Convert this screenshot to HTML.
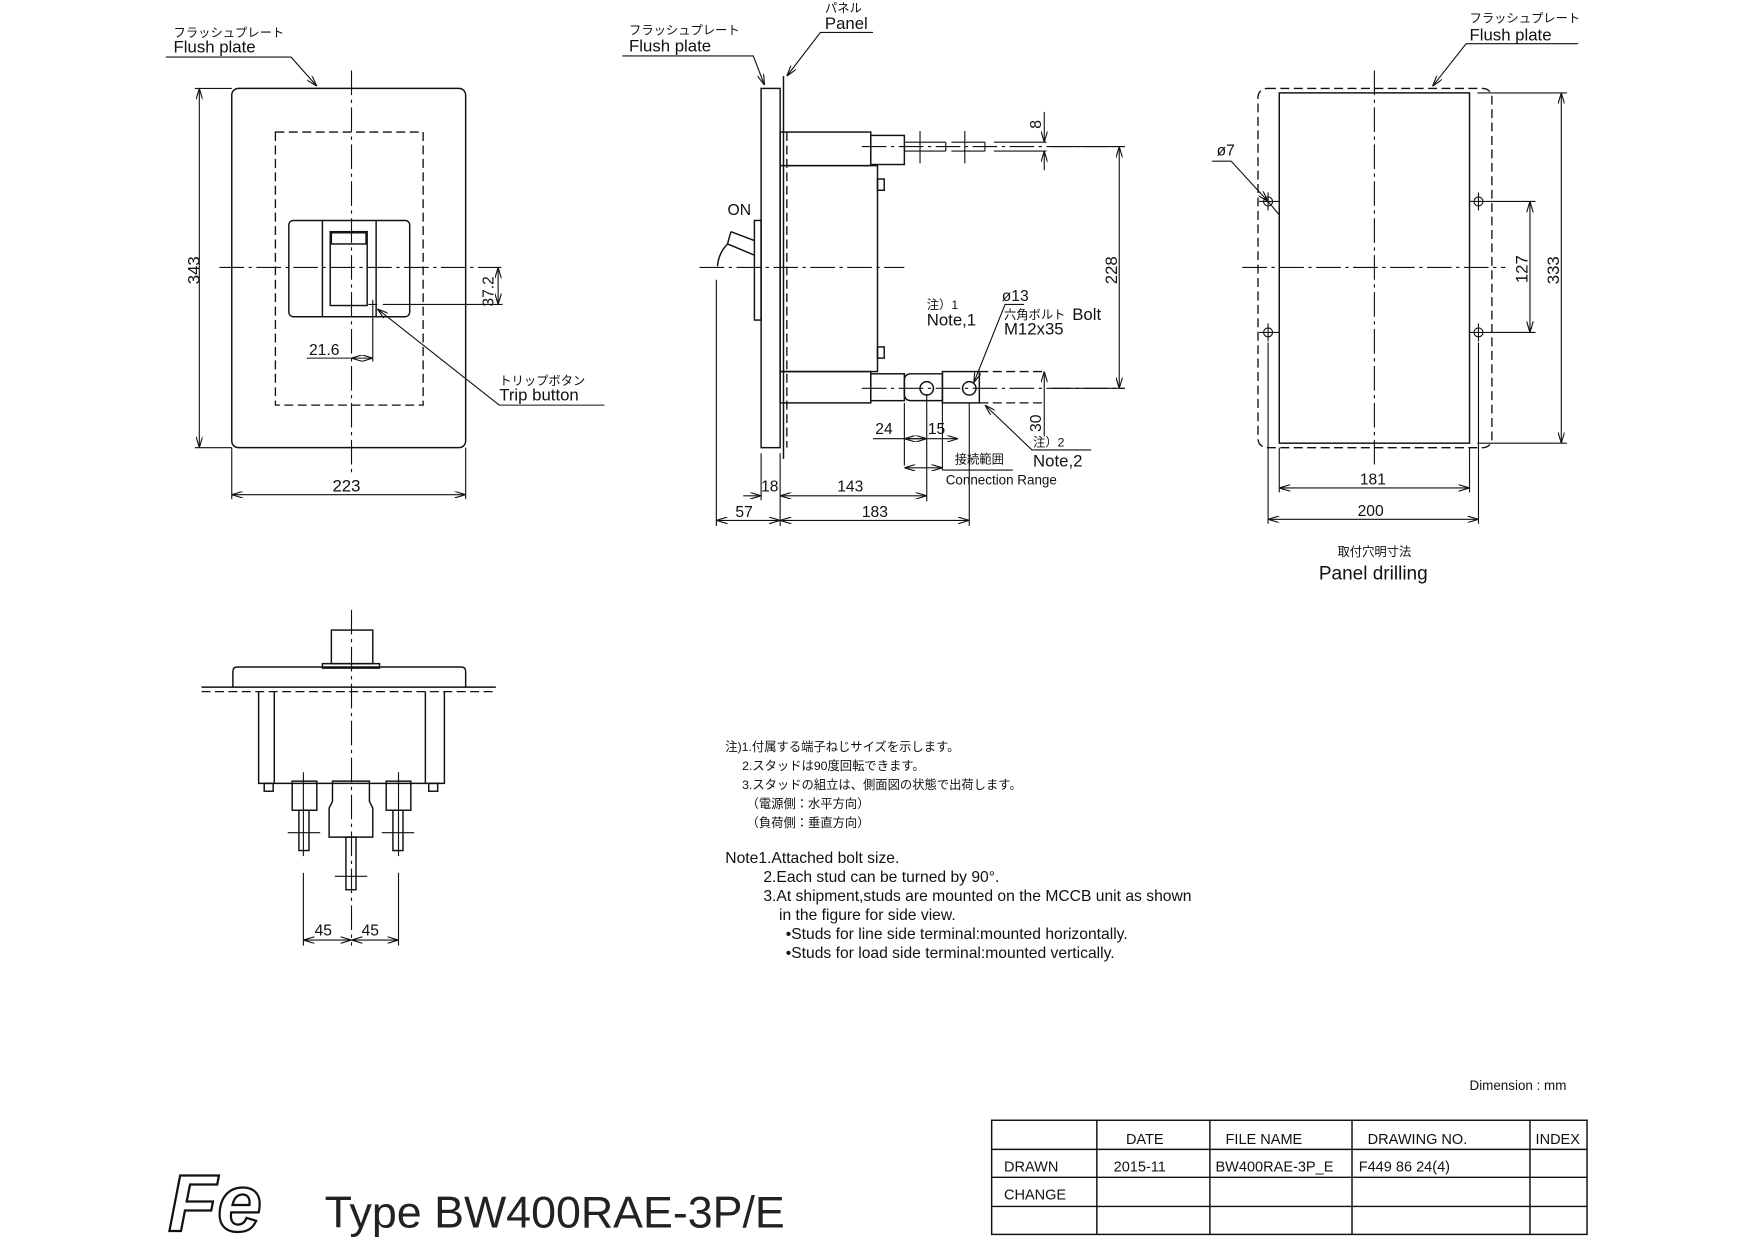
<!DOCTYPE html>
<html><head><meta charset="utf-8"><style>
html,body{margin:0;padding:0;background:#fff;}
svg{display:block;}
text{font-family:"Liberation Sans","Noto Sans CJK JP",sans-serif;fill:#111;}
.l{stroke:#111;stroke-width:1.3;fill:none;}
.t{stroke:#111;stroke-width:1;fill:none;}
.c{stroke:#111;stroke-width:1;fill:none;stroke-dasharray:22 4 3 4;}
.d{stroke:#111;stroke-width:1.2;fill:none;stroke-dasharray:8 4;}
.jp{font-size:11px;}
.en{font-size:15px;}
</style></head><body>
<svg width="1755" height="1240" viewBox="0 0 1568 1108" xmlns="http://www.w3.org/2000/svg">
<defs>
<marker id="a" viewBox="0 0 10 6" refX="10" refY="3" markerWidth="10" markerHeight="6" orient="auto-start-reverse" markerUnits="userSpaceOnUse"><path d="M0,0 L10,3 L0,6" fill="none" stroke="#111" stroke-width="1"/></marker>
</defs>

<!-- FRONT VIEW -->
<rect class="l" x="207" y="79" width="209" height="321" rx="6"/>
<rect class="d" x="246" y="118" width="132" height="244"/>
<line class="c" x1="314" y1="63" x2="314" y2="425"/>
<line class="c" x1="196" y1="239" x2="448" y2="239"/>
<rect class="l" x="258" y="197" width="108" height="86" rx="4"/>
<line class="l" x1="288" y1="197" x2="288" y2="283"/>
<line class="l" x1="336" y1="197" x2="336" y2="283"/>
<rect class="l" x="295" y="207" width="33" height="66"/>
<rect class="l" x="296" y="208" width="31" height="10"/>
<path class="t" d="M329,272h8M333,268v8"/>
<line class="t" x1="342" y1="272" x2="449" y2="272"/>
<line class="t" x1="445" y1="239" x2="445" y2="272" marker-start="url(#a)" marker-end="url(#a)"/>
<text x="0" y="0" font-size="14" transform="translate(441,274) rotate(-90)">37.2</text>
<line class="t" x1="333" y1="276" x2="333" y2="323"/>
<line class="t" x1="274" y1="320" x2="314" y2="320"/>
<line class="t" x1="314" y1="320" x2="333" y2="320" marker-start="url(#a)" marker-end="url(#a)"/>
<text x="276" y="317" font-size="14">21.6</text>
<path class="t" d="M540,362H446L337,276" marker-end="url(#a)"/>
<text class="jp" x="446" y="344">トリップボタン</text>
<text class="en" x="446" y="358">Trip button</text>
<line class="t" x1="178" y1="79" x2="178" y2="400" marker-start="url(#a)" marker-end="url(#a)"/>
<line class="t" x1="174" y1="79" x2="207" y2="79"/><line class="t" x1="174" y1="400" x2="207" y2="400"/>
<text font-size="15" transform="translate(178,254) rotate(-90)">343</text>
<line class="t" x1="207" y1="442" x2="416" y2="442" marker-start="url(#a)" marker-end="url(#a)"/>
<line class="t" x1="207" y1="400" x2="207" y2="446"/><line class="t" x1="416" y1="400" x2="416" y2="446"/>
<text x="297" y="439" font-size="15">223</text>
<text class="jp" x="155" y="33">フラッシュプレート</text>
<text class="en" x="155" y="47">Flush plate</text>
<path class="t" d="M148,51H260L283,77" marker-end="url(#a)"/>

<!-- SIDE VIEW -->
<rect class="l" x="680" y="79" width="17" height="321"/>
<line class="l" x1="700" y1="68" x2="700" y2="410"/>
<line class="d" x1="703" y1="118" x2="703" y2="400"/>
<rect class="l" x="697" y="118" width="81" height="30"/>
<rect class="l" x="697" y="148" width="87" height="184"/>
<rect class="l" x="697" y="332" width="81" height="28"/>
<rect class="l" x="778" y="121" width="30" height="26"/>
<rect class="l" x="778" y="334" width="30" height="24"/>
<rect class="l" x="784" y="160" width="6" height="10"/>
<rect class="l" x="784" y="310" width="6" height="10"/>
<line class="c" x1="770" y1="131" x2="1005" y2="131"/>
<path class="t" d="M808,127H845M808,135H845M850,127H880M850,135H880M888,127H935M888,135H935M845,127V135M880,127V135"/>
<path class="t" d="M822,117V146M862,117V146"/>
<line class="t" x1="933" y1="100" x2="933" y2="127" marker-end="url(#a)"/>
<line class="t" x1="933" y1="152" x2="933" y2="135" marker-end="url(#a)"/>
<text font-size="14" transform="translate(930,115) rotate(-90)">8</text>
<line class="t" x1="938" y1="131" x2="1005" y2="131"/>
<line class="t" x1="940" y1="347" x2="1005" y2="347"/>
<line class="t" x1="1000" y1="131" x2="1000" y2="347" marker-start="url(#a)" marker-end="url(#a)"/>
<text font-size="15" transform="translate(998,254) rotate(-90)">228</text>
<path class="l" d="M842,334H814Q808,334 808,340V352Q808,358 814,358H842Z"/>
<circle class="l" cx="828" cy="347" r="6"/>
<rect class="l" x="842" y="332" width="33" height="28"/>
<circle class="l" cx="866" cy="347" r="6"/>
<line class="c" x1="770" y1="347" x2="1005" y2="347"/>
<path class="d" d="M875,332H935M875,360H935"/>
<line class="t" x1="933" y1="332" x2="933" y2="390" marker-start="url(#a)"/>
<text font-size="14" transform="translate(930,386) rotate(-90)">30</text>
<text x="895" y="269" font-size="14">ø13</text>
<text class="jp" x="897" y="285">六角ボルト</text><text class="en" x="958" y="286">Bolt</text>
<text class="en" x="897" y="299">M12x35</text>
<path class="t" d="M915,272H898L870,342" marker-end="url(#a)"/>
<text class="jp" x="828" y="276">注）1</text>
<text class="en" x="828" y="291">Note,1</text>
<path class="t" d="M975,402H922L880,362" marker-end="url(#a)"/>
<text class="jp" x="923" y="399">注）2</text>
<text class="en" x="923" y="417">Note,2</text>
<path class="t" d="M808,360V416M828,352V448M842,360V420M866,360V470"/>
<line class="t" x1="780" y1="392" x2="828" y2="392"/>
<line class="t" x1="808" y1="392" x2="828" y2="392" marker-start="url(#a)" marker-end="url(#a)"/>
<line class="t" x1="828" y1="392" x2="856" y2="392" marker-end="url(#a)"/>
<text x="782" y="388" font-size="14">24</text>
<text x="829" y="388" font-size="14">15</text>
<line class="t" x1="808" y1="418" x2="842" y2="418" marker-start="url(#a)" marker-end="url(#a)"/>
<line class="t" x1="842" y1="420" x2="905" y2="420"/>
<text class="jp" x="853" y="414">接続範囲</text>
<text x="845" y="433" font-size="12">Connection Range</text>
<line class="t" x1="697" y1="443" x2="828" y2="443" marker-start="url(#a)" marker-end="url(#a)"/>
<text x="748" y="439" font-size="14">143</text>
<line class="t" x1="664" y1="443" x2="680" y2="443" marker-end="url(#a)"/>
<text x="680" y="439" font-size="14">18</text>
<path class="t" d="M680,405V447M697,405V470M640,250V470"/>
<line class="t" x1="640" y1="465" x2="697" y2="465" marker-start="url(#a)" marker-end="url(#a)"/>
<line class="t" x1="697" y1="465" x2="866" y2="465" marker-start="url(#a)" marker-end="url(#a)"/>
<text x="657" y="462" font-size="14">57</text>
<text x="770" y="462" font-size="14">183</text>
<rect class="l" x="674" y="197" width="6" height="89"/>
<path class="l" d="M653,207L674,215M650,218L674,228M653,207L650,218Q642,226 641,238"/>
<text x="650" y="192" font-size="14">ON</text>
<line class="c" x1="625" y1="239" x2="808" y2="239"/>
<text class="jp" x="562" y="31">フラッシュプレート</text>
<text class="en" x="562" y="46">Flush plate</text>
<path class="t" d="M556,50H673L683,76" marker-end="url(#a)"/>
<text class="jp" x="737" y="11">パネル</text>
<text class="en" x="737" y="26">Panel</text>
<path class="t" d="M780,29H733L703,68" marker-end="url(#a)"/>

<!-- PANEL DRILLING -->
<rect class="d" x="1124" y="79" width="209" height="321" rx="8"/>
<rect class="l" x="1143" y="83" width="170" height="313"/>
<line class="c" x1="1228" y1="63" x2="1228" y2="418"/>
<line class="c" x1="1110" y1="239" x2="1345" y2="239"/>
<g class="t">
<circle cx="1133" cy="180" r="4"/><circle cx="1321" cy="180" r="4"/>
<circle cx="1133" cy="297" r="4"/><circle cx="1321" cy="297" r="4"/>
<path d="M1125,180H1143M1133,172V188M1313,180H1330M1321,172V188M1125,297H1143M1133,289V305M1313,297H1330M1321,289V305"/>
</g>
<path class="t" d="M1330,180H1372M1330,297H1372M1320,83H1400M1320,396H1400"/>
<line class="t" x1="1367" y1="180" x2="1367" y2="297" marker-start="url(#a)" marker-end="url(#a)"/>
<text font-size="15" transform="translate(1365,253) rotate(-90)">127</text>
<line class="t" x1="1395" y1="83" x2="1395" y2="396" marker-start="url(#a)" marker-end="url(#a)"/>
<text font-size="15" transform="translate(1393,254) rotate(-90)">333</text>
<path class="t" d="M1143,400V440M1313,400V440M1133,306V468M1321,306V468"/>
<line class="t" x1="1143" y1="436" x2="1313" y2="436" marker-start="url(#a)" marker-end="url(#a)"/>
<line class="t" x1="1133" y1="464" x2="1321" y2="464" marker-start="url(#a)" marker-end="url(#a)"/>
<text x="1215" y="433" font-size="14">181</text>
<text x="1213" y="461" font-size="14">200</text>
<text x="1087" y="139" font-size="14">ø7</text>
<path class="t" d="M1083,144H1100L1133,180" marker-end="url(#a)"/>
<line class="t" x1="1133" y1="180" x2="1143" y2="192"/>
<text class="jp" x="1313" y="20">フラッシュプレート</text>
<text class="en" x="1313" y="36">Flush plate</text>
<path class="t" d="M1410,39H1310L1280,77" marker-end="url(#a)"/>
<text class="jp" x="1228" y="497" text-anchor="middle" font-size="12">取付穴明寸法</text>
<text x="1227" y="518" text-anchor="middle" font-size="17">Panel drilling</text>

<!-- BOTTOM VIEW -->
<path class="l" d="M208,614V600Q208,596 212,596H412Q416,596 416,600V614"/>
<rect class="l" x="296" y="563" width="37" height="30"/>
<rect class="l" x="288" y="593" width="51" height="4"/>
<line class="l" x1="180" y1="614" x2="443" y2="614"/>
<line class="d" x1="180" y1="618" x2="443" y2="618"/>
<path class="l" d="M231,618V700H245V618M245,700H380M380,618V700H397V618"/>
<rect class="l" x="236" y="700" width="8" height="7"/><rect class="l" x="383" y="700" width="8" height="7"/>
<rect class="l" x="261" y="698" width="22" height="26"/>
<rect class="l" x="267" y="724" width="9" height="36"/>
<path class="l" d="M297,698H330V716L333,722V748H294V722L297,716Z"/>
<rect class="l" x="309" y="748" width="9" height="47"/>
<rect class="l" x="345" y="698" width="22" height="26"/>
<rect class="l" x="351" y="724" width="9" height="36"/>
<line class="c" x1="314" y1="545" x2="314" y2="845"/>
<path class="t" d="M271,690V765M356,690V765M257,744H286M341,744H370M299,783H328"/>
<path class="t" d="M271,780V845M356,780V845"/>
<line class="t" x1="271" y1="840" x2="314" y2="840" marker-start="url(#a)" marker-end="url(#a)"/>
<line class="t" x1="314" y1="840" x2="356" y2="840" marker-start="url(#a)" marker-end="url(#a)"/>
<text x="281" y="836" font-size="14">45</text>
<text x="323" y="836" font-size="14">45</text>

<!-- NOTES -->
<g class="jp" font-size="11">
<text x="648" y="671">注)1.付属する端子ねじサイズを示します。</text>
<text x="663" y="688">2.スタッドは90度回転できます。</text>
<text x="663" y="705">3.スタッドの組立は、側面図の状態で出荷します。</text>
<text x="667" y="722">（電源側：水平方向）</text>
<text x="667" y="739">（負荷側：垂直方向）</text>
</g>
<g font-size="14">
<text x="648" y="771">Note1.Attached bolt size.</text>
<text x="682" y="788">2.Each stud can be turned by 90°.</text>
<text x="682" y="805">3.At shipment,studs are mounted on the MCCB unit as shown</text>
<text x="696" y="822">in the figure for side view.</text>
<text x="702" y="839">•Studs for line side terminal:mounted horizontally.</text>
<text x="702" y="856">•Studs for load side terminal:mounted vertically.</text>
</g>
<text x="1313" y="974" font-size="12">Dimension : mm</text>

<!-- TABLE -->
<rect class="l" x="886" y="1001" width="532" height="102"/>
<path class="l" d="M886,1027H1418M886,1052H1418M886,1078H1418M980,1001V1103M1081,1001V1103M1208,1001V1103M1367,1001V1103"/>
<g font-size="13">
<text x="1006" y="1022">DATE</text>
<text x="1095" y="1022">FILE NAME</text>
<text x="1222" y="1022">DRAWING NO.</text>
<text x="1372" y="1022">INDEX</text>
<text x="897" y="1047">DRAWN</text>
<text x="995" y="1047">2015-11</text>
<text x="1086" y="1047">BW400RAE-3P_E</text>
<text x="1214" y="1047">F449 86 24(4)</text>
<text x="897" y="1072">CHANGE</text>
</g>
<text x="150" y="1100" font-size="72" font-style="italic" font-weight="bold" style="fill:none;stroke:#111;stroke-width:2">Fe</text>
<text x="290" y="1097" font-size="40" style="fill:#222">Type BW400RAE-3P/E</text>
</svg>
</body></html>
